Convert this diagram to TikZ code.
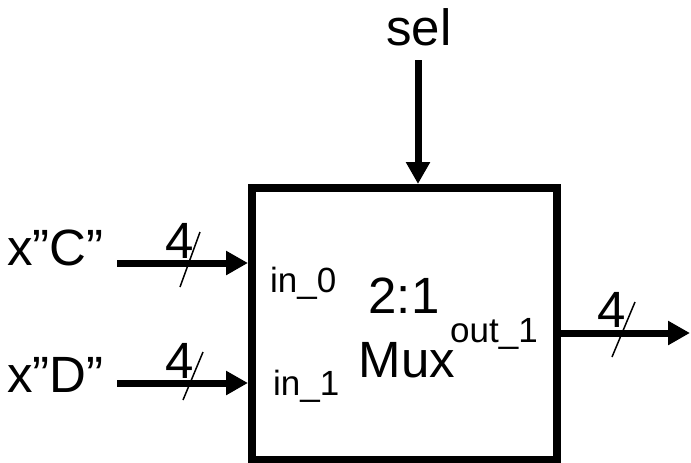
\documentclass[tikz,border=0pt]{standalone}
\usepackage{fontspec}
\setmainfont{Liberation Sans}
\usetikzlibrary{arrows.meta}
\begin{document}
\begin{tikzpicture}[x=1pt,y=-1pt,
  big/.style={inner sep=0pt,font=\fontsize{51}{60}\selectfont},
  small/.style={inner sep=0pt,font=\fontsize{35}{42}\selectfont},
  bus/.style={line width=7pt,-{Triangle[length=22pt,width=23pt]}},
  slash/.style={line width=1.5pt},
  muxbox/.style={draw,line width=8pt,minimum width=305pt,minimum height=272pt,inner sep=0pt}]
\useasboundingbox (0,0) rectangle (691,463);
\node[muxbox] (box) at (404.5,324) {};
% labels
\node[big,anchor=base] (sel) at (419,45) {sel};
\node[big,anchor=base west] (xc) at (7,265) {x"C"};
\node[big,anchor=base west] (xd) at (7,392) {x"D"};
\node[small,anchor=base west] (in0) at (270,292) {in\_0};
\node[small,anchor=base west] (in1) at (273,395) {in\_1};
\node[small,anchor=base west] (out1) at (450,342) {out\_1};
\node[big,anchor=base] (two) at (404,313) {2:1};
\node[big,anchor=base] (mux) at (407,377) {Mux};
% connectors
\coordinate (selS) at (418,60);
\coordinate (cS) at (117,263);
\coordinate (dS) at (117,383);
\coordinate (oE) at (690,333);
\draw[bus] (selS) -- (selS |- box.north);
\draw[bus] (cS) -- (cS -| box.west);
\draw[bus] (dS) -- (dS -| box.west);
\draw[bus] (oE -| box.east) -- (oE);
% bus widths
\node[big,anchor=base west] (wc) at (165,258) {4};
\draw[slash] (200,232) -- (180,287);
\node[big,anchor=base west] (wd) at (165,378) {4};
\draw[slash] (203,352) -- (183,400);
\node[big,anchor=base west] (wo) at (597,327) {4};
\draw[slash] (635,302) -- (612,357);
\end{tikzpicture}
\end{document}
